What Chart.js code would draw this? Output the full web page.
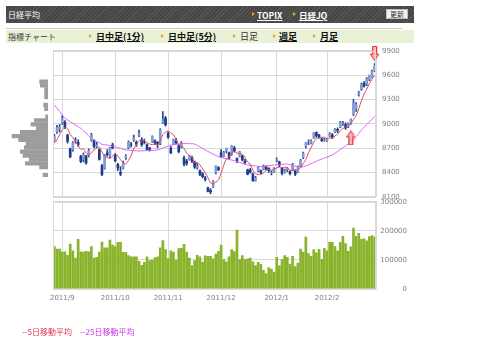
<!DOCTYPE html>
<html><head><meta charset="utf-8">
<script src="https://cdn.jsdelivr.net/npm/chart.js@4/dist/chart.umd.min.js"></script>
<style>
html,body{margin:0;padding:0;background:#fff;}
#wrap{position:relative;width:480px;height:362px;overflow:hidden;font-family:"Noto Sans CJK JP","DejaVu Sans",sans-serif;}
canvas{position:absolute;left:0;top:0;}
.t{position:absolute;white-space:nowrap;line-height:12px;height:12px;}
.tri{position:absolute;width:0;height:0;border-left:3px solid #f3a21c;border-top:2.5px solid transparent;border-bottom:2.5px solid transparent;}
#hdr{position:absolute;left:6px;top:6px;width:408px;height:17px;background:repeating-linear-gradient(135deg,#565656 0px,#565656 1px,#464646 1px,#464646 3px);}
#sep{position:absolute;left:6px;top:28px;width:396px;height:1px;background:#c9c9c9;}
#nav{position:absolute;left:6px;top:30px;width:408px;height:13px;background:#e9f2d6;}
.hl{color:#fff;font-weight:bold;text-decoration:underline;font-size:8.5px;}
.nl{color:#111;font-weight:bold;text-decoration:underline;font-size:9px;}
#btn{position:absolute;left:386px;top:9px;width:22px;height:10px;background:#f2f2f2;border:1px solid #bbb;box-sizing:border-box;font-size:7px;line-height:8px;text-align:center;color:#333;}
</style></head>
<body><div id="wrap">
<div id="hdr"></div>
<div class="t" style="left:8px;top:8.5px;color:#fff;font-size:8px;">日経平均</div>
<div class="tri" style="left:252px;top:12px;"></div><div class="t hl" style="left:257px;top:8.5px;">TOPIX</div>
<div class="tri" style="left:293px;top:12px;"></div><div class="t hl" style="left:299px;top:8.5px;">日経JQ</div>
<div id="btn">更新</div>
<div id="sep"></div>
<div id="nav"></div>
<div class="t" style="left:8px;top:30.5px;color:#333;font-size:8px;">指標チャート</div>
<div class="tri" style="left:89px;top:34px;"></div><div class="t nl" style="left:96px;top:30.5px;">日中足(1分)</div>
<div class="tri" style="left:161px;top:34px;"></div><div class="t nl" style="left:168px;top:30.5px;">日中足(5分)</div>
<div class="tri" style="left:233px;top:34px;"></div><div class="t" style="left:240px;top:30.5px;color:#333;font-size:9px;">日足</div>
<div class="tri" style="left:273px;top:34px;"></div><div class="t nl" style="left:279px;top:30.5px;">週足</div>
<div class="tri" style="left:313px;top:34px;"></div><div class="t nl" style="left:320px;top:30.5px;">月足</div>
<canvas id="cProfile" width="480" height="362"></canvas>
<canvas id="cPrice" width="480" height="362"></canvas>
<canvas id="cVol" width="480" height="362"></canvas>
<div class="t" style="left:22px;top:325.5px;color:#e8344e;font-size:8px;">--5日移動平均</div>
<div class="t" style="left:80px;top:325.5px;color:#cc33ee;font-size:8px;">--25日移動平均</div>
</div>
<script>
// ---- trading days ----
const aug2011 = [29,30,31];
const sep2011 = [1,2,5,6,7,8,9,12,13,14,15,16,20,21,22,26,27,28,29,30];
const oct2011 = [3,4,5,6,7,11,12,13,14,17,18,19,20,21,24,25,26,27,28,31];
const nov2011 = [1,2,4,7,8,9,10,11,14,15,16,17,18,21,22,24,25,28,29,30];
const dec2011 = [1,2,5,6,7,8,9,12,13,14,15,16,19,20,21,22,26,27,28,29,30];
const jan2012 = [4,5,6,10,11,12,13,16,17,18,19,20,23,24,25,26,27,30,31];
const feb2012 = [1,2,3,6,7,8,9,10,13,14,15,16,17,20,21,22,23,24,27];
const monthLabels = ['2011/9','2011/10','2011/11','2011/12','2012/1','2012/2'];

// ---- candles ----
const opens = [8790,8900,8940,9010,9020,8860,8690,8680,8790,8770,
8600,8560,8600,8610,8790,8790,8720,8680,8480,8450,
8640,8600,8740,8610,8500,8400,8450,8580,8700,8740,
8800,8770,8860,8800,8780,8740,8700,8780,8790,8770,
8760,9010,9070,8880,8700,8750,8790,8730,8720,8580,
8540,8560,8580,8530,8460,8420,8380,8330,8210,8180,
8220,8400,8460,8640,8600,8670,8640,8620,8700,8570,
8600,8600,8540,8430,8430,8380,8300,8420,8420,8440,
8470,8450,8390,8410,8550,8530,8450,8400,8430,8410,
8430,8420,8410,8480,8580,8720,8780,8760,8830,8890,
8860,8810,8790,8790,8850,8860,8900,8930,8960,9000,
8990,8960,9000,9110,9180,9360,9430,9500,9490,9550,
9580,9650];
const highs = [8870,8980,8990,9100,9040,8870,8700,8780,8830,8800,
8610,8640,8610,8690,8880,8800,8770,8690,8500,8620,
8680,8710,8760,8630,8510,8470,8540,8620,8790,8770,
8860,8790,8920,8830,8810,8750,8710,8850,8800,8780,
8940,9150,9090,8900,8720,8810,8820,8740,8780,8600,
8560,8610,8600,8540,8510,8430,8400,8350,8220,8200,
8300,8480,8470,8680,8660,8700,8650,8730,8720,8580,
8660,8610,8560,8440,8450,8390,8350,8470,8430,8490,
8480,8460,8420,8460,8580,8540,8460,8440,8460,8420,
8510,8430,8480,8560,8650,8770,8800,8800,8890,8900,
8870,8830,8820,8820,8890,8880,8940,8950,9030,9030,
9010,9010,9060,9300,9260,9400,9500,9520,9570,9600,
9660,9740];
const lows = [8780,8880,8900,8990,8940,8760,8580,8660,8760,8720,
8520,8530,8500,8590,8780,8700,8700,8550,8360,8440,
8600,8580,8690,8530,8420,8360,8440,8560,8690,8710,
8780,8720,8840,8720,8750,8670,8660,8770,8740,8700,
8740,9000,8970,8820,8630,8740,8750,8640,8700,8480,
8490,8550,8520,8450,8440,8360,8330,8290,8160,8135,
8210,8380,8420,8580,8590,8640,8560,8610,8650,8520,
8590,8540,8500,8370,8390,8290,8290,8410,8380,8430,
8430,8400,8370,8400,8530,8470,8370,8390,8410,8370,
8420,8360,8400,8470,8570,8700,8740,8750,8820,8830,
8820,8780,8780,8780,8840,8820,8890,8890,8950,8980,
8930,8950,8990,9100,9150,9340,9410,9450,9470,9530,
9570,9640];
const closes = [8851,8953,8955,9060,8950,8784,8590,8763,8793,8737,
8535,8616,8518,8668,8864,8721,8741,8560,8374,8609,
8615,8701,8700,8545,8456,8382,8522,8605,8773,8738,
8823,8747,8879,8741,8772,8682,8678,8843,8762,8748,
8926,9050,8988,8835,8640,8801,8767,8655,8755,8500,
8514,8603,8541,8463,8479,8374,8348,8314,8165,8160,
8287,8477,8434,8597,8643,8695,8575,8722,8664,8536,
8653,8553,8519,8377,8401,8296,8336,8459,8395,8479,
8440,8423,8398,8455,8560,8488,8390,8422,8447,8385,
8500,8378,8466,8550,8639,8766,8785,8785,8883,8849,
8841,8793,8802,8809,8876,8831,8929,8917,9015,9002,
8947,8999,9052,9260,9238,9384,9485,9463,9554,9595,
9647,9720];

// ---- moving averages ----
const ma5 = [8758,8802,8866,8923,8954,8940,8868,8829,8776,8733,
8684,8689,8640,8615,8640,8677,8702,8711,8652,8601,
8580,8572,8600,8634,8603,8557,8521,8502,8548,8604,
8692,8737,8792,8786,8792,8764,8750,8743,8747,8743,
8791,8866,8895,8909,8888,8863,8806,8740,8724,8696,
8638,8605,8583,8524,8520,8492,8441,8396,8336,8272,
8255,8281,8305,8391,8488,8569,8589,8646,8660,8638,
8630,8626,8585,8528,8501,8429,8386,8374,8377,8393,
8422,8439,8427,8439,8455,8465,8458,8463,8461,8426,
8429,8426,8435,8456,8507,8560,8641,8705,8772,8814,
8829,8830,8834,8819,8824,8822,8849,8872,8914,8939,
8962,8976,9003,9052,9099,9187,9284,9366,9425,9496,
9549,9596];
const ma25 = [9230,9190,9150,9108,9066,9045,9024,9004,8984,8963,
8943,8912,8882,8851,8820,8801,8783,8764,8746,8741,
8736,8730,8725,8715,8705,8696,8686,8676,8673,8671,
8668,8666,8663,8665,8667,8669,8670,8672,8674,8676,
8688,8700,8713,8725,8737,8741,8745,8750,8754,8758,
8756,8754,8752,8750,8732,8713,8695,8676,8659,8641,
8624,8607,8595,8585,8576,8567,8559,8552,8542,8532,
8522,8511,8501,8491,8487,8483,8478,8474,8470,8474,
8478,8483,8487,8491,8494,8496,8499,8501,8503,8495,
8487,8478,8470,8462,8470,8478,8493,8508,8522,8537,
8552,8564,8577,8589,8602,8614,8636,8658,8681,8703,
8725,8750,8774,8799,8840,8881,8922,8956,8989,9023,
9056,9090];

// ---- volume ----
const volumes = [145000,137000,137000,126000,127000,115000,154000,131000,106000,170000,
127000,126000,129000,127000,145000,106000,108000,126000,161000,141000,
141000,168000,150000,145000,160000,160000,125000,125000,114000,110000,
110000,110000,94000,81000,91000,110000,97000,99000,107000,110000,
141000,166000,135000,104000,131000,126000,99000,138000,139000,153000,
126000,106000,80000,97000,115000,110000,92000,113000,112000,112000,
103000,119000,129000,150000,100000,93000,110000,135000,128000,202000,
100000,114000,100000,103000,106000,93000,80000,91000,84000,63000,
52000,73000,68000,57000,108000,79000,101000,114000,108000,85000,
112000,76000,88000,137000,126000,178000,121000,112000,135000,124000,
136000,101000,139000,131000,160000,160000,145000,131000,160000,181000,
156000,129000,144000,209000,181000,191000,170000,172000,165000,180000,
183000,178000];

// ---- volume by price (left profile) ----
const profilePrices = [9650,9590,9530,9470,9410,9290,9230,9110,9050,8990,8930,8870,8810,8750,8690,8630,8570,8510,8450,8390,8330,8210];
const profileVolumes = [84,77,34,34,34,44,34,24,137,170,117,277,360,294,220,237,277,250,187,227,84,50];

// ---- signal arrows ----
const arrowIndex = [112,121];
const arrowPrice = [8826,9868];
const arrowUp = [true,false];

// ===== build =====
const months = [[2011,8,aug2011],[2011,9,sep2011],[2011,10,oct2011],[2011,11,nov2011],[2011,12,dec2011],[2012,1,jan2012],[2012,2,feb2012]];
const categories = [];
const monthStartIdx = [];
months.forEach(([y,m,days])=>{
  if(m!==8) monthStartIdx.push(categories.length);
  days.forEach(d=>categories.push(y+'/'+m+'/'+d));
});
const GRID = '#d9d9d9';
const TICKC = '#808080';
const FONT = {family:'DejaVu Sans', size:7};
const plain = v => String(v);

const frame = {id:'frame', afterDraw(chart){
  const a=chart.chartArea, c=chart.ctx; c.save(); c.strokeStyle=GRID; c.lineWidth=1;
  c.strokeRect(Math.round(a.left)+0.5, Math.round(a.top)+0.5, Math.round(a.right-a.left)-1, Math.round(a.bottom-a.top));
  c.restore();
}};

function makeArrow(up){
  const cv=document.createElement('canvas'); cv.width=9; cv.height=15;
  const g=cv.getContext('2d');
  g.beginPath();
  if(up){ g.moveTo(4.5,0.5); g.lineTo(8.5,6.5); g.lineTo(6.5,6.5); g.lineTo(6.5,14.5); g.lineTo(2.5,14.5); g.lineTo(2.5,6.5); g.lineTo(0.5,6.5); }
  else { g.moveTo(2.5,0.5); g.lineTo(6.5,0.5); g.lineTo(6.5,8.5); g.lineTo(8.5,8.5); g.lineTo(4.5,14.5); g.lineTo(0.5,8.5); g.lineTo(2.5,8.5); }
  g.closePath(); g.fillStyle='#ffb8b8'; g.fill(); g.strokeStyle='#e3151f'; g.lineWidth=1; g.stroke();
  return cv;
}

const gridColorX = ctx => monthStartIdx.includes(ctx.index) ? GRID : 'rgba(0,0,0,0)';

// price chart
new Chart(document.getElementById('cPrice'), {
  type:'bar',
  data:{labels:categories, datasets:[
    {type:'line', label:'5日移動平均', data:ma5, borderColor:'#e8445e', borderWidth:1, pointRadius:0, tension:0.3, order:0},
    {type:'line', label:'25日移動平均', data:ma25, borderColor:'#dd66f2', borderWidth:1, pointRadius:0, tension:0.3, order:0},
    {type:'line', label:'arrows', data:arrowIndex.map((i,k)=>({x:categories[i], y:arrowPrice[k]})), showLine:false,
      pointStyle:arrowUp.map(u=>makeArrow(u)), pointRadius:6, clip:false, order:-1},
    {label:'body', data:opens.map((o,i)=>[o,closes[i]]), backgroundColor:closes.map((c,i)=>c>=opens[i]?'#7f9ed6':'#1d3b8e'),
      barThickness:2, grouped:false, order:1},
    {label:'wick', data:lows.map((l,i)=>[l,highs[i]]), backgroundColor:'#27468f', barThickness:1, grouped:false, order:2}
  ]},
  options:{responsive:false, animation:false,
    layout:{padding:{left:53, top:50.7, right:0, bottom:165.3}},
    plugins:{legend:{display:false}, tooltip:{enabled:false}},
    scales:{
      x:{offset:true, grid:{offset:false, color:gridColorX, drawTicks:false}, ticks:{display:false}, border:{color:GRID}, afterFit:s=>{s.height=0;}},
      y:{position:'right', min:8100, max:9900, ticks:{stepSize:300, color:TICKC, font:FONT, padding:6, callback:plain}, grid:{color:GRID, drawTicks:false}, border:{color:GRID}, afterFit:s=>{s.width=104;}}
    }
  },
  plugins:[frame]
});

// volume chart
new Chart(document.getElementById('cVol'), {
  type:'bar',
  data:{labels:categories, datasets:[
    {label:'出来高', data:volumes, backgroundColor:'#89b32a', barThickness:2}
  ]},
  options:{responsive:false, animation:false,
    layout:{padding:{left:53, top:201.7, right:73, bottom:0}},
    plugins:{legend:{display:false}, tooltip:{enabled:false}},
    scales:{
      x:{offset:true, grid:{offset:false, color:gridColorX, drawTicks:false}, border:{color:GRID},
        ticks:{autoSkip:false, maxRotation:0, minRotation:0, color:TICKC, font:FONT, padding:5,
          callback:(v,i)=>{const k=monthStartIdx.indexOf(i); return k>=0?monthLabels[k]:'';}},
        afterFit:s=>{s.height=73.3;}},
      y:{position:'right', min:0, max:300000, ticks:{stepSize:100000, color:TICKC, font:FONT, padding:4, crossAlign:'far', callback:plain},
        grid:{color:GRID, drawTicks:false}, border:{color:GRID}, afterFit:s=>{s.width=31;}}
    }
  },
  plugins:[frame]
});

// volume-by-price profile
new Chart(document.getElementById('cProfile'), {
  type:'bar',
  data:{datasets:[{label:'価格帯別出来高', data:profileVolumes.map((v,i)=>({x:v, y:profilePrices[i]})), backgroundColor:'#9d9d9d', barThickness:3.6}]},
  options:{indexAxis:'y', responsive:false, animation:false,
    layout:{padding:{left:0, top:50.7, right:432, bottom:165.3}},
    plugins:{legend:{display:false}, tooltip:{enabled:false}},
    scales:{
      y:{type:'linear', min:8100, max:9900, display:false},
      x:{reverse:true, min:0, max:480, display:false}
    }
  }
});
</script>
</body></html>
